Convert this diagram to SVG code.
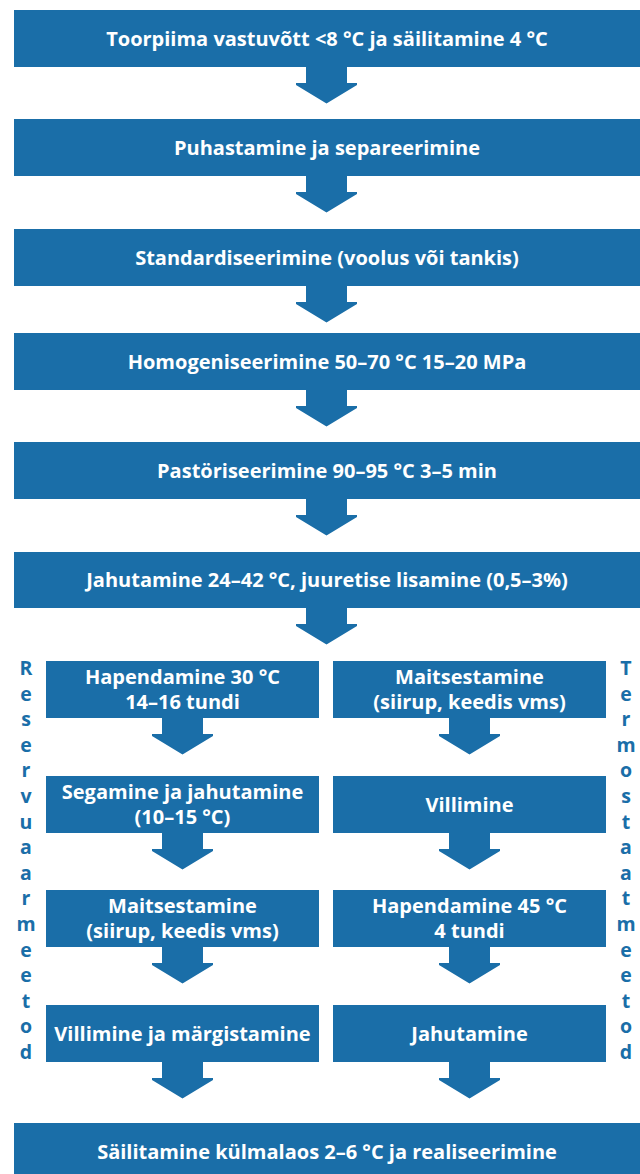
<svg xmlns="http://www.w3.org/2000/svg" xmlns:xlink="http://www.w3.org/1999/xlink" width="640" height="1174" viewBox="0 0 640 1174">
  <style>
    .box { fill: #1a6ea8; }
    .arrow { fill: #1a6ea8; }
    .t { font-family: "Open Sans", "Noto Sans", "DejaVu Sans", sans-serif; font-weight: bold; font-size: 20px; fill: #ffffff; text-anchor: middle; }
    .side { font-family: "Open Sans", "Noto Sans", "DejaVu Sans", sans-serif; font-weight: bold; font-size: 19.5px; fill: #1a6ea8; text-anchor: middle; }
  </style>
  <defs>
    <path id="arr" d="M-20.5,0 H20.5 V16 H30.5 V18 L0,36.5 L-30.5,18 V16 H-20.5 Z"/>
  </defs>
  <rect width="640" height="1174" fill="#ffffff"/>

  <g id="connectors" class="arrow">
    <use xlink:href="#arr" href="#arr" x="326.5" y="67"/>
    <use xlink:href="#arr" href="#arr" x="326.5" y="176"/>
    <use xlink:href="#arr" href="#arr" x="326.5" y="286"/>
    <use xlink:href="#arr" href="#arr" x="326.5" y="390"/>
    <use xlink:href="#arr" href="#arr" x="326.5" y="499"/>
    <use xlink:href="#arr" href="#arr" x="326.5" y="608"/>
    <use xlink:href="#arr" href="#arr" x="182.5" y="718"/>
    <use xlink:href="#arr" href="#arr" x="182.5" y="833"/>
    <use xlink:href="#arr" href="#arr" x="182.5" y="947"/>
    <use xlink:href="#arr" href="#arr" x="182.5" y="1062"/>
    <use xlink:href="#arr" href="#arr" x="469.5" y="718"/>
    <use xlink:href="#arr" href="#arr" x="469.5" y="833"/>
    <use xlink:href="#arr" href="#arr" x="469.5" y="947"/>
    <use xlink:href="#arr" href="#arr" x="469.5" y="1062"/>
  </g>

  <g id="n1"><rect class="box" x="14" y="10" width="626" height="57"/><text class="t" x="327" y="46">Toorpiima vastuvõtt &lt;8 °C ja säilitamine 4 °C</text></g>
  <g id="n2"><rect class="box" x="14" y="119" width="626" height="57"/><text class="t" x="327" y="155">Puhastamine ja separeerimine</text></g>
  <g id="n3"><rect class="box" x="14" y="229" width="626" height="57"/><text class="t" x="327" y="265">Standardiseerimine (voolus või tankis)</text></g>
  <g id="n4"><rect class="box" x="14" y="333" width="626" height="57"/><text class="t" x="327" y="369">Homogeniseerimine 50–70 °C 15–20 MPa</text></g>
  <g id="n5"><rect class="box" x="14" y="442" width="626" height="57"/><text class="t" x="327" y="478">Pastöriseerimine 90–95 °C 3–5 min</text></g>
  <g id="n6"><rect class="box" x="14" y="552" width="626" height="56"/><text class="t" x="327" y="587">Jahutamine 24–42 °C, juuretise lisamine (0,5–3%)</text></g>

  <g id="l1"><rect class="box" x="46" y="661" width="273" height="57"/><text class="t" x="182.5" y="684">Hapendamine 30 °C</text><text class="t" x="182.5" y="709">14–16 tundi</text></g>
  <g id="l2"><rect class="box" x="46" y="776" width="273" height="57"/><text class="t" x="182.5" y="799">Segamine ja jahutamine</text><text class="t" x="182.5" y="824">(10–15 °C)</text></g>
  <g id="l3"><rect class="box" x="46" y="890" width="273" height="57"/><text class="t" x="182.5" y="913">Maitsestamine</text><text class="t" x="182.5" y="938">(siirup, keedis vms)</text></g>
  <g id="l4"><rect class="box" x="46" y="1005" width="273" height="57"/><text class="t" x="182.5" y="1041">Villimine ja märgistamine</text></g>

  <g id="r1"><rect class="box" x="333" y="661" width="273" height="57"/><text class="t" x="469.5" y="684">Maitsestamine</text><text class="t" x="469.5" y="709">(siirup, keedis vms)</text></g>
  <g id="r2"><rect class="box" x="333" y="776" width="273" height="57"/><text class="t" x="469.5" y="812">Villimine</text></g>
  <g id="r3"><rect class="box" x="333" y="890" width="273" height="57"/><text class="t" x="469.5" y="913">Hapendamine 45 °C</text><text class="t" x="469.5" y="938">4 tundi</text></g>
  <g id="r4"><rect class="box" x="333" y="1005" width="273" height="57"/><text class="t" x="469.5" y="1041">Jahutamine</text></g>

  <g id="n7"><rect class="box" x="14" y="1123" width="626" height="57"/><text class="t" x="327" y="1159">Säilitamine külmalaos 2–6 °C ja realiseerimine</text></g>

  <g id="label-left" class="side">
    <text x="26" y="675">R</text><text x="26" y="700.6">e</text><text x="26" y="726.2">s</text><text x="26" y="751.8">e</text>
    <text x="26" y="777.4">r</text><text x="26" y="803">v</text><text x="26" y="828.6">u</text><text x="26" y="854.2">a</text>
    <text x="26" y="879.8">a</text><text x="26" y="905.4">r</text><text x="26" y="931">m</text><text x="26" y="956.6">e</text>
    <text x="26" y="982.2">e</text><text x="26" y="1007.8">t</text><text x="26" y="1033.4">o</text><text x="26" y="1059">d</text>
  </g>
  <g id="label-right" class="side">
    <text x="626" y="675">T</text><text x="626" y="700.6">e</text><text x="626" y="726.2">r</text><text x="626" y="751.8">m</text>
    <text x="626" y="777.4">o</text><text x="626" y="803">s</text><text x="626" y="828.6">t</text><text x="626" y="854.2">a</text>
    <text x="626" y="879.8">a</text><text x="626" y="905.4">t</text><text x="626" y="931">m</text><text x="626" y="956.6">e</text>
    <text x="626" y="982.2">e</text><text x="626" y="1007.8">t</text><text x="626" y="1033.4">o</text><text x="626" y="1059">d</text>
  </g>
</svg>
